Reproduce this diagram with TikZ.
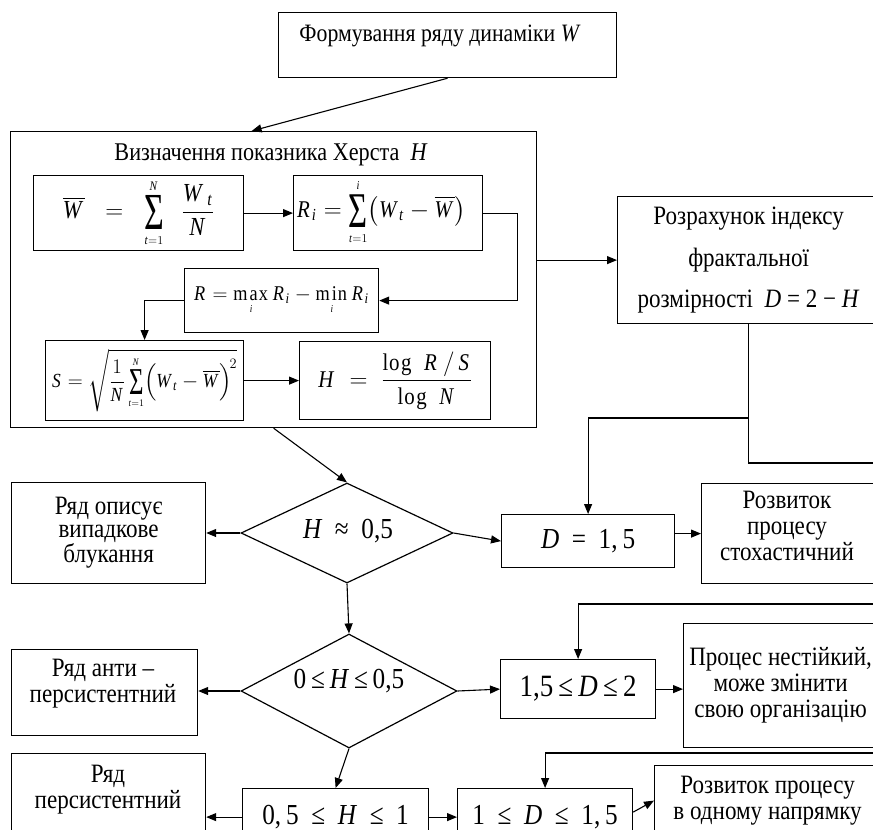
\documentclass[tikz,border=0pt]{standalone}
\usepackage{graphicx}
\usepackage{exscale}
\usepackage{fontspec}
\setmainfont[FakeStretch=0.87]{Liberation Serif}
\usetikzlibrary{arrows.meta,shapes.geometric,calc}
\newcommand{\mW}{\mathit{W}}
\newcommand{\mt}{\mathit{t}}
\newcommand{\mN}{\mathit{N}}
\newcommand{\mR}{\mathit{R}}
\newcommand{\mi}{\mathit{i}}
\newcommand{\Sig}[1]{\mathop{\vcenter{\hbox{\scalebox{0.75}[1]{\fontsize{#1}{#1}\selectfont Σ}}}}\limits}
\newcommand{\sst}[1]{{\scriptscriptstyle #1}}
\begin{document}
\begin{tikzpicture}[x=1pt,y=-1pt,
  font=\fontsize{26.5}{26}\selectfont,
  box/.style={draw, line width=1.2pt, rectangle, inner sep=0pt, anchor=north west, align=center},
  dia/.style={draw, line width=1.2pt, diamond, inner sep=0pt},
  ln/.style={line width=1.1pt},
  arr/.style={line width=1.1pt, -{Triangle[length=10pt,width=8pt]}},
  txt/.style={inner sep=0pt, align=center},
  big/.style={font=\fontsize{29}{26}\selectfont},
  fm/.style={font=\fontsize{26}{26}\selectfont}]
\useasboundingbox (0,0) rectangle (873,830);
\clip (0,0) rectangle (873,830);

% boxes
\node[box, minimum width=338pt, minimum height=65pt] (top) at (278,12) {};
\node[txt, font=\fontsize{25}{26}\selectfont] (topt) at (440,36) {Формування ряду динаміки \textit{W}};

\node[box, minimum width=526pt, minimum height=296pt] (hurst) at (10,131) {};
\node[txt, font=\fontsize{25.5}{26}\selectfont] (hurt) at (271,155) {Визначення показника Херста \ \textit{H}};

\node[box, fm, minimum width=210pt, minimum height=75pt] (wbar) at (33,175)
  {$\displaystyle \overline{\mW}\;\;=\;\;\Sig{52}_{\sst{\mt=1}}^{\sst{\mN}}\;\;\frac{\mW_{\,\mt}}{\mN}$};
\node[box, minimum width=189pt, minimum height=75pt] (ri) at (293,175) {};
\node[txt, anchor=west, font=\fontsize{24}{24}\selectfont] (rit) at (297,212)
  {$\displaystyle \mR_{\mi}=\Sig{50}_{\sst{\mt=1}}^{\sst{\mi}}\bigl(\mW_{\mt}-\overline{\mW}\bigr)$};
\node[box, minimum width=194pt, minimum height=64pt, font=\fontsize{21}{21}\selectfont] (rmax) at (184,268)
  {$\displaystyle \mR=\max\limits_{\sst{\mi}} \mR_{\mi}-\min\limits_{\sst{\mi}} \mR_{\mi}$};
\node[box, minimum width=198pt, minimum height=80pt, font=\fontsize{20}{20}\selectfont] (sbox) at (45,340)
  {$\displaystyle \mathit{S}=\sqrt{\frac{1}{\mN}\Sig{38}_{\sst{\mt=1}}^{\sst{\mN}}\Bigl(\mW_{\mt}-\overline{\mW}\Bigr)^{\!2}}$};
\node[box, minimum width=191pt, minimum height=78pt, font=\fontsize{24}{24}\selectfont] (hbox) at (299,341)
  {$\displaystyle \mathit{H}\;=\;\frac{\log\;\mR\,/\,\mathit{S}}{\log\;\mN}$};

\node[box, minimum width=262pt, minimum height=127pt, font=\fontsize{26.5}{41.5}\selectfont] (rightbox) at (617,196)
  {Розрахунок індексу\\фрактальної\\розмірності \ \textit{D} = 2 − \textit{H}};

% decision rows
\node[dia, minimum width=212pt, minimum height=100pt, aspect=2.1] (d1) at (347,533) {};
\node[txt, big] (d1t) at (348,531) {\textit{H} \ ≈ \ 0,5};
\node[box, minimum width=194pt, minimum height=101pt, font=\fontsize{26.5}{23}\selectfont] (left1) at (11,482)
  {Ряд описує\\випадкове\\блукання};
\node[box, big, minimum width=173pt, minimum height=53pt] (dbox) at (501,514) {\textit{D} \ = \ 1,\,5};
\node[box, minimum width=176pt, minimum height=100pt] (stoch) at (701,483) {};
\node[txt] (stocht) at (787,526) {Розвиток\\процесу\\стохастичний};

\node[dia, minimum width=216pt, minimum height=114pt, aspect=1.9] (d2) at (349,691) {};
\node[txt, big] (d2t) at (349,681) {0\,≤\,\textit{H}\,≤\,0,5};
\node[box, minimum width=186pt, minimum height=86pt] (left2) at (11,649) {};
\node[txt] (left2t) at (103,684) {Ряд анти –\\персистентний};
\node[box, minimum width=155pt, minimum height=59pt, font=\fontsize{31}{26}\selectfont] (d15) at (500,659) {1,5\,≤\,\textit{D}\,≤\,2};
\node[box, minimum width=194pt, minimum height=124pt] (proc) at (683,623)
  {Процес нестійкий,\\може змінити\\свою організацію};

\node[box, minimum width=194pt, minimum height=90pt] (left3) at (11,753) {};
\node[txt] (left3t) at (108,790) {Ряд\\персистентний};
\node[box, big, minimum width=186pt, minimum height=57pt] (hbox2) at (242,788) {0,\,5 \ ≤ \ \textit{H} \ ≤ \ 1};
\node[box, big, minimum width=175pt, minimum height=57pt] (dbox3) at (457,788) {1 \ ≤ \ \textit{D} \ ≤ \ 1,\,5};
\node[box, minimum width=226pt, minimum height=70pt] (dir) at (654,765)
  {Розвиток процесу\\в одному напрямку};

% free ends
\coordinate (e1) at (880,463);
\coordinate (e2) at (880,604);
\coordinate (e3) at (880,753);
\coordinate (j1) at (748,418);

% connectors
\draw[arr] (top.south) -- ([xshift=-22pt]hurst.north);
\draw[arr] (wbar.east) -- (ri.west);
\draw[arr] (ri.east) -- ++(34,0) |- (rmax.east);
\draw[arr] (rmax.west) -| (sbox.north);
\draw[arr] (sbox.east) -- (hbox.west);
\draw[arr] (hurst.east |- rightbox.west) -- (rightbox.west);
\draw[arr] (hurst.south) -- (d1.north);
\draw[ln] (rightbox.south) |- (e1);
\draw[arr] (j1) -| (dbox.north);
\draw[arr] (d1.west) -- (left1.east |- d1.west);
\draw[arr] (d1.east) -- (dbox.west);
\draw[arr] (dbox.east |- stoch.west) -- (stoch.west);
\draw[arr] (d1.south) -- (d2.north);
\draw[arr] (d2.west) -- (left2.east |- d2.west);
\draw[arr] (d2.east) -- (d15.west);
\draw[arr] (d15.east) -- (proc.west |- d15.east);
\draw[arr] (e2) -| (d15.north);
\draw[arr] (d2.south) -- (hbox2.north);
\draw[arr] (hbox2.west) -- (left3.east |- hbox2.west);
\draw[arr] (hbox2.east) -- (dbox3.west |- hbox2.east);
\draw[arr] ([yshift=5pt]dbox3.east) -- (dir.west);
\draw[arr] (e3) -| (dbox3.north);
\end{tikzpicture}
\end{document}
